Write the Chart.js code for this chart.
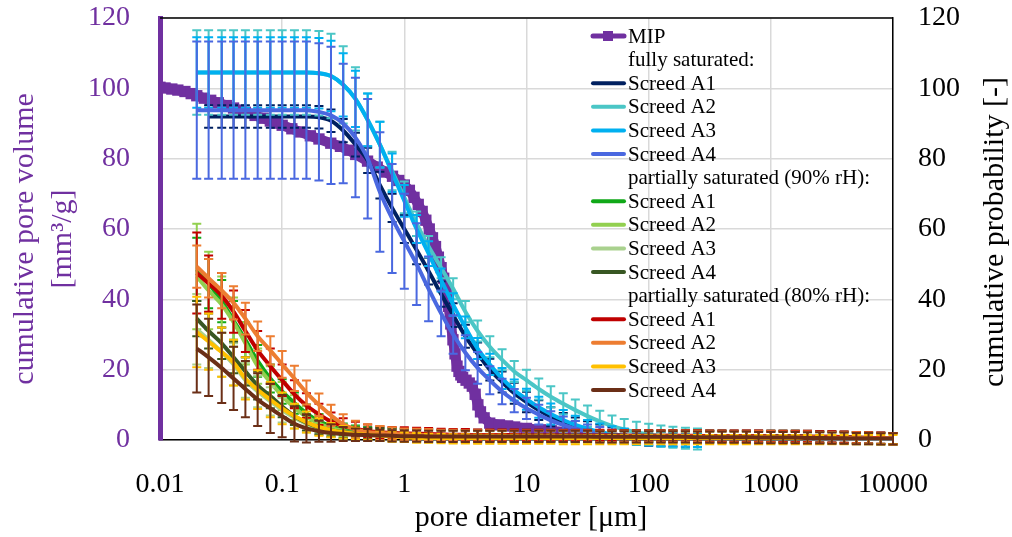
<!DOCTYPE html>
<html><head><meta charset="utf-8">
<script src="https://cdn.jsdelivr.net/npm/chart.js@4"></script>
<style>html,body{margin:0;padding:0;background:#fff}#wrap{width:1012px;height:537px;position:relative}</style>
</head><body><div id="wrap"><canvas id="c" width="1012" height="537"></canvas></div>
<script>
// ---------- DATA ----------
const diameters = [0.02,0.025,0.032,0.04,0.05,0.063,0.08,0.1,0.126,0.158,
0.2,0.251,0.316,0.398,0.501,0.631,0.794,1,1.26,1.58,
2,2.51,3.16,3.98,5.01,6.31,7.94,10,12.6,15.8,
20,25.1,31.6,39.8,50.1,63.1,79.4,100,126,158,
200,251,316,398,501,631,794,1000,1259,1585,
1995,2512,3162,3981,5012,6310,7943,10000];

const xTickValues = [0.01,0.1,1,10,100,1000,10000];
const xTickLabels = ['0.01','0.1','1','10','100','1000','10000'];
const yTickValues = [0,20,40,60,80,100,120];

const mipDiameter = [0.01,0.011,0.0125,0.014,0.016,0.018,0.02,0.023,0.026,0.03,
0.035,0.04,0.045,0.05,0.06,0.07,0.08,0.09,0.1,0.12,
0.14,0.17,0.2,0.25,0.3,0.35,0.4,0.5,0.6,0.7,
0.8,0.9,1.0,1.1,1.2,1.3,1.4,1.5,1.6,1.7,
1.8,1.9,2.0,2.1,2.2,2.3,2.4,2.5,2.6,2.7,
2.8,2.9,3.0,3.2,3.4,3.6,3.8,4.0,4.2,4.5,
5,6,7,8,10,13,16,20,25,30,
40,50,60,70,80,90];
const mipVolume = [100.3,100.1,99.8,99.5,99.1,98.5,97.9,97.2,96.6,95.9,
95.1,94.4,93.8,93.2,92.3,91.5,90.7,90.1,89.5,88.5,
87.6,86.5,85.6,84.4,83.5,82.4,81.2,79.3,77.6,76.2,
75,73.8,72.5,71,69,67,65,62.5,60,57.5,
55,52,49,46,42,38,33,28.5,24.5,21,
19.5,18.5,17.8,17,16.2,15.3,13,10,8,6.3,
4.8,4.3,4,3.7,3.3,2.9,2.6,2.2,1.8,1.4,
0.9,0.5,0.3,0.15,0.05,0];

// fully saturated
const fullA1 = [null,92,92,92,92,92,92,92,92,92,
91.8,90.8,88,84,79.5,72.5,66,60,54,48,
41.5,35.5,29.5,24.5,20,16.5,13.3,10.8,8.5,6.6,
5.1,3.9,2.9,2.1,1.5,1,0.7,0.4,0.25,0.15,
0.1,0,0,0,0,0,0,0,0,0,
0,0,0,0,0,0,0,0];
const fullA1Err = [null,3.2,3.2,3.2,3.2,3.2,3.2,3.2,3.2,3.2,
3.2,3.2,3.3,3.4,3.6,3.8,4,4,4,3.8,
3.6,3.4,3.3,3.2,3.1,3,3,2.9,2.8,2.7,
2.6,2.5,2.4,2.3,2.2,2.1,2,2,2,2,
2,2];
const fullA2 = [104.5,104.5,104.5,104.5,104.5,104.5,104.5,104.5,104.5,104.5,
104.3,103.5,101,97,91,84,76.5,69,61.5,55,
49,43,36.5,31,26.5,22.8,19.5,17,14.5,12.3,
10.3,8.5,6.8,5.3,4,3,2.2,1.6,1.1,0.8,
0.5,0.3,0.2,0.1,0,0,0,0,0,0,
0,0,0,0,0,0,0,0];
const fullA2Err = [12,12,12,12,12,12,12,12,12,12,
12,12,11,9,7.5,6.5,5.5,4.5,3.5,3,
3,3,3,3,3,3,3,3,3,3,
3,3,3,3,3,3,3,3,3,3,
3,3];
const fullA3 = [104.5,104.5,104.5,104.5,104.5,104.5,104.5,104.5,104.5,104.5,
104.3,103.5,101,97,91,84,76,68,60,53,
45.5,38.5,32,26,21.5,17.5,14.2,11.6,9.3,7.4,
5.7,4.3,3.2,2.3,1.6,1.1,0.7,0.45,0.25,0.15,
0.1,0,0,0,0,0,0,0,0,0,
0,0,0,0,0,0,0,0];
const fullA3Err = [10,10,10,10,10,10,10,10,10,10,
10,10,9,8,7.5,6.5,5.5,4.5,4,3.5,
3.3,3.2,3.1,3,3,3,3,3,3,3,
2.8,2.6,2.5,2.4,2.3,2.2,2.1,2,2,2,
2,2];
const fullA4 = [93.8,93.8,93.8,93.8,93.8,93.8,93.8,93.8,93.8,93.8,
93.3,92.3,90,86,80,70.5,63,56.5,50,43,
36,30,24.8,20.5,17,13.8,11.2,9,7.2,5.6,
4.3,3.2,2.4,1.7,1.2,0.8,0.5,0.3,0.2,0.1,
0,0,0,0,0,0,0,0,0,0,
0,0,0,0,0,0,0,0];
const fullA4Err = [19.5,19.5,19.5,19.5,19.5,19.5,19.5,19.5,19.5,19.5,
19.5,19.5,17,17,17,17,15.5,13.5,11.6,9.2,
6.5,5.5,5,4.5,4,3.6,3.3,3,2.8,2.6,
2.4,2.2,2,2,1.8,1.6,1.4,1.2,1,1,
1,1];

// partially saturated (90% rH)
const rh90A1 = [48.5,44.5,39.5,34,28.5,22.5,17.5,13.8,10.5,7.6,
5.4,3.9,3,2.4,2,1.8,1.6,1.5,1.4,1.3,
1.2,1.2,1.2,1.2,1.1,1.1,1.1,1.1,1.1,1.1,
1.1,1.1,1.1,1,1,1,1,1,1,1,
1,1,1,1,0.9,0.9,0.9,0.9,0.9,0.9,
0.8,0.8,0.7,0.7,0.6,0.5,0.4,0.3];
const rh90A1Err = [9,7,6,5.5,5,4.5,4,3.5,3,2.5,
2,1.8,1.7,1.7,1.7,1.7,1.7,1.7,1.7,1.7,
1.6,1.6,1.6,1.6,1.6,1.6,1.6,1.6,1.6,1.6,
1.6,1.6,1.6,1.6,1.6,1.6,1.6,1.6,1.6,1.6,
1.6,1.6,1.6,1.6,1.6,1.6,1.6,1.6,1.6,1.6,
1.6,1.6,1.6,1.6,1.6,1.6,1.6,1.6];
const rh90A2 = [46.5,42.5,38.5,33.5,27.5,21,16.5,12.5,9.2,6.6,
4.7,3.4,2.6,2.1,1.8,1.6,1.5,1.4,1.3,1.2,
1.1,1.1,1.1,1.1,1.1,1.1,1.1,1.1,1.1,1.1,
1,1,1,1,1,1,1,1,1,1,
0.9,0.9,0.9,0.9,0.9,0.9,0.9,0.9,0.9,0.9,
0.8,0.7,0.7,0.6,0.5,0.5,0.4,0.3];
const rh90A2Err = [15,11,8,7,6,5,4.5,4,3.5,3,
2.5,2,1.8,1.7,1.7,1.7,1.7,1.7,1.7,1.7,
1.6,1.6,1.6,1.6,1.6,1.6,1.6,1.6,1.6,1.6,
1.6,1.6,1.6,1.6,1.6,1.6,1.6,1.6,1.6,1.6,
1.6,1.6,1.6,1.6,1.6,1.6,1.6,1.6,1.6,1.6,
1.6,1.6,1.6,1.6,1.6,1.6,1.6,1.6];
const rh90A3 = [31.5,28.5,25,21.5,17,13.8,11,8.5,6.3,4.6,
3.4,2.6,2.1,1.8,1.6,1.4,1.3,1.2,1.1,1,
0.9,0.9,0.9,0.9,0.9,0.9,0.9,0.9,0.9,0.9,
0.8,0.8,0.8,0.8,0.8,0.8,0.8,0.8,0.8,0.8,
0.7,0.7,0.7,0.7,0.7,0.7,0.7,0.7,0.7,0.7,
0.6,0.6,0.5,0.5,0.4,0.4,0.3,0.3];
const rh90A3Err = [10,8,7,6,5,4.5,4,3.5,3,2.5,
2,1.8,1.7,1.7,1.7,1.7,1.7,1.7,1.7,1.7,
1.6,1.6,1.6,1.6,1.6,1.6,1.6,1.6,1.6,1.6,
1.6,1.6,1.6,1.6,1.6,1.6,1.6,1.6,1.6,1.6,
1.6,1.6,1.6,1.6,1.6,1.6,1.6,1.6,1.6,1.6,
1.6,1.6,1.6,1.6,1.6,1.6,1.6,1.6];
const rh90A4 = [34.5,31,27.5,23.5,19.5,15.5,12.5,9.5,6.8,4.9,
3.6,2.8,2.3,2,1.8,1.7,1.6,1.5,1.4,1.4,
1.3,1.3,1.3,1.3,1.3,1.3,1.3,1.3,1.3,1.3,
1.2,1.2,1.2,1.2,1.2,1.2,1.2,1.2,1.2,1.2,
1.1,1.1,1.1,1.1,1.1,1.1,1.1,1.1,1.1,1.1,
1,0.9,0.9,0.8,0.7,0.6,0.5,0.4];
const rh90A4Err = [5,5,4.5,4.5,4,4,3.5,3,2.5,2.2,
2,1.8,1.7,1.7,1.7,1.7,1.7,1.7,1.7,1.7,
1.6,1.6,1.6,1.6,1.6,1.6,1.6,1.6,1.6,1.6,
1.6,1.6,1.6,1.6,1.6,1.6,1.6,1.6,1.6,1.6,
1.6,1.6,1.6,1.6,1.6,1.6,1.6,1.6,1.6,1.6,
1.6,1.6,1.6,1.6,1.6,1.6,1.6,1.6];

// partially saturated (80% rH)
const rh80A1 = [47.5,44.5,41,36.5,31,25.5,21,17,13,9.8,
7.3,5.3,4,3.2,2.6,2.2,2,1.9,1.8,1.7,
1.6,1.5,1.5,1.4,1.4,1.4,1.4,1.3,1.3,1.3,
1.3,1.3,1.3,1.3,1.3,1.2,1.2,1.2,1.2,1.2,
1.2,1.2,1.1,1.1,1.1,1.1,1.1,1,1,1,
1,0.9,0.9,0.8,0.7,0.6,0.5,0.4];
const rh80A1Err = [11.5,8,6.5,6,6,5.5,5,4.5,4,3.5,
3,2.5,2.2,2,1.8,1.7,1.7,1.7,1.7,1.7,
1.6,1.6,1.6,1.6,1.6,1.6,1.6,1.6,1.6,1.6,
1.6,1.6,1.6,1.6,1.6,1.6,1.6,1.6,1.6,1.6,
1.6,1.6,1.6,1.6,1.6,1.6,1.6,1.6,1.6,1.6,
1.6,1.6,1.6,1.6,1.6,1.6,1.6,1.6];
const rh80A2 = [49.3,46,42.5,39,34.5,29.5,25.5,21.5,17.5,13.5,
10,7,4.5,3,2.3,2,1.8,1.6,1.5,1.4,
1.3,1.3,1.2,1.2,1.2,1.2,1.1,1.1,1.1,1.1,
1.1,1.1,1.1,1,1,1,1,1,1,1,
1,1,0.9,0.9,0.9,0.9,0.9,0.9,0.8,0.8,
0.8,0.7,0.7,0.6,0.6,0.5,0.4,0.3];
const rh80A2Err = [6,5.5,5,4.7,4.5,4.2,4,3.8,3.6,3.4,
3.2,3,2.8,2.5,2.2,2,1.8,1.7,1.7,1.7,
1.6,1.6,1.6,1.6,1.6,1.6,1.6,1.6,1.6,1.6,
1.6,1.6,1.6,1.6,1.6,1.6,1.6,1.6,1.6,1.6,
1.6,1.6,1.6,1.6,1.6,1.6,1.6,1.6,1.6,1.6,
1.6,1.6,1.6,1.6,1.6,1.6,1.6,1.6];
const rh80A3 = [30.7,28,25,22,17.5,14.3,11.5,9,6.8,5.1,
3.7,2.8,2.2,1.8,1.5,1.2,1,0.8,0.6,0.5,
0.4,0.3,0.3,0.2,0.2,0.2,0.2,0.2,0.2,0.2,
0.1,0.1,0.1,0.1,0.1,0.1,0.1,0.1,0.1,0.1,
0.1,0.1,0.1,0.1,0.1,0.1,0.1,0.1,0.1,0.1,
0.1,0.1,0.1,0.1,0.1,0.1,0.1,0.1];
const rh80A3Err = [10,8,7,6.5,6,5.5,5,4.5,3.5,3,
2.5,2,1.8,1.7,1.6,1.5,1.5,1.4,1.4,1.3,
1.3,1.3,1.3,1.3,1.3,1.3,1.3,1.3,1.3,1.3,
1.3,1.3,1.3,1.3,1.3,1.3,1.3,1.3,1.3,1.3,
1.3,1.3,1.3,1.3,1.3,1.3,1.3,1.3,1.3,1.3,
1.3,1.3,1.3,1.3,1.3,1.3,1.3,1.3];
const rh80A4 = [26,23.5,20.5,17.5,14.5,11.5,9,6.8,4.6,3.3,
2.5,2,1.7,1.5,1.4,1.3,1.2,1.1,1.1,1,
1,1,1,1,1,1,1,1,1,1,
1,1,1,0.9,0.9,0.9,0.9,0.9,0.9,0.9,
0.9,0.8,0.8,0.8,0.8,0.8,0.7,0.7,0.7,0.7,
0.6,0.6,0.5,0.5,0.4,0.4,0.3,0.3];
const rh80A4Err = [12.5,11,10,9,8,7.5,7,6,5,4,
3,2.5,2,1.8,1.7,1.6,1.6,1.6,1.6,1.6,
1.6,1.6,1.6,1.6,1.6,1.6,1.6,1.6,1.6,1.6,
1.6,1.6,1.6,1.6,1.6,1.6,1.6,1.6,1.6,1.6,
1.6,1.6,1.6,1.6,1.6,1.6,1.6,1.6,1.6,1.6,
1.6,1.6,1.6,1.6,1.6,1.6,1.6,1.6];

const seriesLabels = ['Screed A1','Screed A2','Screed A3','Screed A4'];
const legendTexts = ['MIP','fully saturated:','Screed A1','Screed A2','Screed A3','Screed A4',
 'partially saturated (90% rH):','Screed A1','Screed A2','Screed A3','Screed A4',
 'partially saturated (80% rH):','Screed A1','Screed A2','Screed A3','Screed A4'];

// ---------- STYLE ----------
const PURPLE = '#7030A0';
const legendColors = [PURPLE,null,'#002060','#4BC6C6','#00B0F0','#4A68E0',
 null,'#10A818','#92D050','#A9D18E','#385723',
 null,'#C00000','#ED7D31','#FFC000','#6B2F17'];

const curveSets = [
 [fullA1, fullA1Err, legendColors[2]],
 [fullA2, fullA2Err, legendColors[3]],
 [fullA3, fullA3Err, legendColors[4]],
 [fullA4, fullA4Err, legendColors[5]],
 [rh90A1, rh90A1Err, legendColors[7]],
 [rh90A2, rh90A2Err, legendColors[8]],
 [rh90A3, rh90A3Err, legendColors[9]],
 [rh90A4, rh90A4Err, legendColors[10]],
 [rh80A1, rh80A1Err, legendColors[12]],
 [rh80A2, rh80A2Err, legendColors[13]],
 [rh80A3, rh80A3Err, legendColors[14]],
 [rh80A4, rh80A4Err, legendColors[15]]
];

Chart.defaults.font.family = "'Liberation Serif','Times New Roman',serif";
Chart.defaults.color = '#000';

const datasets = [];
datasets.push({
  label:'MIP',
  data: mipDiameter.map((d,i)=>({x:d,y:mipVolume[i]})),
  borderColor: PURPLE, backgroundColor: PURPLE,
  borderWidth: 10, tension: 0, borderJoinStyle:'bevel',
  pointStyle:'rect', pointRadius: 8, pointBorderWidth: 0, pointBackgroundColor: PURPLE,
  yAxisID:'y', order: 0
});
curveSets.forEach((s,i)=>{
  datasets.push({
    label: seriesLabels[i%4],
    data: diameters.map((d,k)=>({x:d,y:s[0][k]})),
    errors: s[1],
    borderColor: s[2], backgroundColor: s[2],
    borderWidth: 4, pointRadius: 0,
    cubicInterpolationMode:'monotone',
    spanGaps:false,
    yAxisID:'y2', order: -(i+1)
  });
});

// error bars plugin
const errorBars = {
  id:'errorBars',
  afterDatasetDraw(chart, args){
    const ds = chart.data.datasets[args.index];
    if(!ds.errors) return;
    const xs = chart.scales.x, ys = chart.scales.y2;
    const ctx = chart.ctx;
    ctx.save();
    ctx.strokeStyle = ds.borderColor;
    ctx.lineWidth = 2;
    ds.data.forEach((p,k)=>{
      const e = ds.errors[k];
      if(p.y==null || e==null) return;
      const x = xs.getPixelForValue(p.x);
      const y1 = ys.getPixelForValue(p.y+e);
      const y2 = ys.getPixelForValue(p.y-e);
      ctx.beginPath();
      ctx.moveTo(x,y1); ctx.lineTo(x,y2);
      ctx.moveTo(x-4.5,y1); ctx.lineTo(x+4.5,y1);
      ctx.moveTo(x-4.5,y2); ctx.lineTo(x+4.5,y2);
      ctx.stroke();
    });
    ctx.restore();
  }
};

// legend + titles plugin
const decor = {
  id:'decor',
  afterDraw(chart){
    const ctx = chart.ctx;
    const ca = chart.chartArea;
    ctx.save();
    ctx.strokeStyle = '#000'; ctx.lineWidth = 1.5;
    ctx.beginPath(); ctx.moveTo(ca.left, ca.top); ctx.lineTo(ca.right, ca.top); ctx.stroke();
    ctx.font = "21px 'Liberation Serif'";
    ctx.textBaseline = 'middle'; ctx.textAlign = 'left';
    legendTexts.forEach((t,i)=>{
      const y = 36 + i*23.6;
      const c = legendColors[i];
      if(c){
        ctx.strokeStyle = c; ctx.lineWidth = (i===0)?5:4; ctx.lineCap='round';
        ctx.beginPath(); ctx.moveTo(593,y); ctx.lineTo(624,y); ctx.stroke();
        if(i===0){ ctx.fillStyle = c; ctx.fillRect(603,y-5,10,10); }
      }
      ctx.fillStyle = '#000';
      ctx.fillText(t, 628, y+1);
    });
    ctx.textAlign = 'center'; ctx.textBaseline = 'middle';
    ctx.font = "30px 'Liberation Serif'";
    ctx.fillStyle = PURPLE;
    ctx.save(); ctx.translate(25, 239); ctx.rotate(-Math.PI/2);
    ctx.fillText('cumulative pore volume', 0, 0); ctx.restore();
    ctx.save(); ctx.translate(63, 239); ctx.rotate(-Math.PI/2);
    ctx.fillText('[mm³/g]', 0, 0); ctx.restore();
    ctx.fillStyle = '#000';
    ctx.save(); ctx.translate(995, 232); ctx.rotate(-Math.PI/2);
    ctx.fillText('cumulative probability [-]', 0, 0); ctx.restore();
    ctx.fillText('pore diameter [μm]', 531, 518);
    ctx.restore();
  }
};

function noPad(s){ s.paddingTop = 0; s.paddingBottom = 0; }

new Chart(document.getElementById('c'), {
  type:'line',
  data:{datasets},
  options:{
    responsive:false, animation:false, devicePixelRatio:1,
    layout:{padding:{top:18,left:0,right:0,bottom:0}},
    plugins:{legend:{display:false}, tooltip:{enabled:false}},
    scales:{
      x:{type:'logarithmic', min:0.01, max:10000,
        afterBuildTicks(s){ s.ticks = xTickValues.map(v=>({value:v})); },
        afterFit(s){ s.height = 97; s.paddingLeft = 0; s.paddingRight = 0; },
        ticks:{autoSkip:false, maxRotation:0, padding:28, font:{size:28}, color:'#000',
          callback:(v,i)=>xTickLabels[i]},
        grid:{color:'#D9D9D9', lineWidth:1.5, drawTicks:false},
        border:{color:'#000', width:1.5}
      },
      y:{type:'linear', position:'left', min:0, max:120,
        afterBuildTicks(s){ s.ticks = yTickValues.map(v=>({value:v})); },
        afterFit(s){ s.width = 160; noPad(s); },
        ticks:{padding:30, font:{size:28}, color:PURPLE},
        grid:{color:'#D9D9D9', lineWidth:1.5, drawTicks:false},
        border:{color:PURPLE, width:5}
      },
      y2:{type:'linear', position:'right', min:0, max:120,
        afterBuildTicks(s){ s.ticks = yTickValues.map(v=>({value:v})); },
        afterFit(s){ s.width = 119; noPad(s); },
        ticks:{padding:25, font:{size:28}, color:'#000'},
        grid:{display:false, drawTicks:false},
        border:{color:'#000', width:1.5}
      }
    }
  },
  plugins:[errorBars, decor]
});
</script></body></html>
